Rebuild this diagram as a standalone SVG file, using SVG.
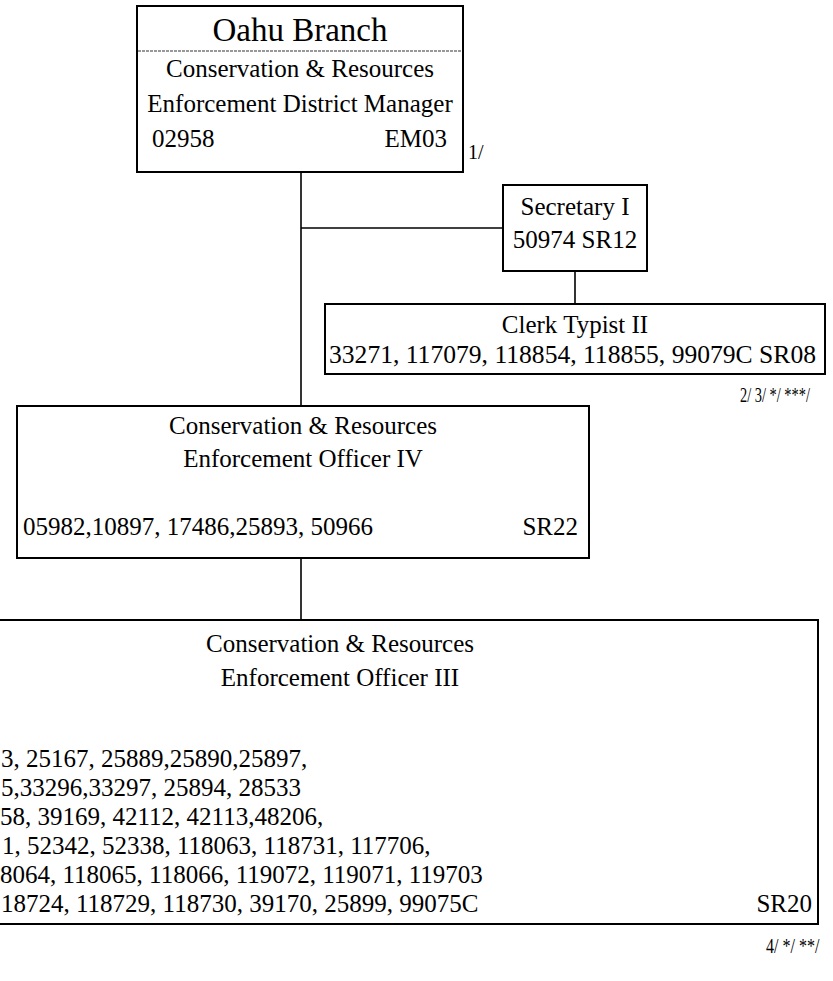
<svg xmlns="http://www.w3.org/2000/svg" width="833" height="981" viewBox="0 0 833 981">
<style>
.box{fill:#fff;stroke:#000;stroke-width:2}
.ln{stroke:#000;stroke-width:1.6;fill:none}
.t{font-family:"Liberation Serif","Times New Roman",serif;font-size:25px;fill:#000}
.c{text-anchor:middle}
.e{text-anchor:end}
.n{font-family:"Liberation Serif","Times New Roman",serif;font-size:20px;fill:#000}
</style>
<rect width="833" height="981" fill="#fff"/>
<g id="connectors">
<line class="ln" x1="301" y1="172" x2="301" y2="406"/>
<line class="ln" x1="301" y1="228" x2="503" y2="228"/>
<line class="ln" x1="575" y1="271" x2="575" y2="304"/>
<line class="ln" x1="301" y1="558" x2="301" y2="620"/>
</g>
<g id="oahu-branch">
<rect class="box" x="137" y="6" width="326" height="166"/>
<line x1="138" y1="51" x2="462" y2="51" stroke="#333" stroke-width="1" stroke-dasharray="3,1"/>
<text class="t c" x="300" y="41" style="font-size:33px">Oahu Branch</text>
<text class="t c" x="300" y="77">Conservation &amp; Resources</text>
<text class="t c" x="300" y="112">Enforcement District Manager</text>
<text class="t" x="152" y="147">02958</text>
<text class="t e" x="447" y="147">EM03</text>
<text class="t" x="468" y="159" style="font-size:20px">1/</text>
</g>
<g id="secretary">
<rect class="box" x="503" y="185" width="144" height="86"/>
<text class="t c" x="575" y="215">Secretary I</text>
<text class="t c" x="575" y="248">50974 SR12</text>
</g>
<g id="clerk-typist">
<rect class="box" x="325" y="304" width="500" height="70"/>
<text class="t c" x="575" y="333">Clerk Typist II</text>
<text class="t" x="329" y="363" textLength="487" lengthAdjust="spacingAndGlyphs">33271, 117079, 118854, 118855, 99079C SR08</text>
<text class="n" transform="translate(740,402) scale(0.72,1)">2/ 3/ */ ***/</text>
</g>
<g id="officer-iv">
<rect class="box" x="17" y="406" width="572" height="152"/>
<text class="t c" x="303" y="434">Conservation &amp; Resources</text>
<text class="t c" x="303" y="467">Enforcement Officer IV</text>
<text class="t" x="23" y="535">05982,10897, 17486,25893, 50966</text>
<text class="t e" x="578" y="535">SR22</text>
</g>
<g id="officer-iii">
<rect class="box" x="-20" y="620" width="838" height="304"/>
<text class="t c" x="340" y="652">Conservation &amp; Resources</text>
<text class="t c" x="340" y="686">Enforcement Officer III</text>
<text class="t" x="1" y="767">3, 25167, 25889,25890,25897,</text>
<text class="t" x="1" y="796">5,33296,33297, 25894, 28533</text>
<text class="t" x="0" y="825">58, 39169, 42112, 42113,48206,</text>
<text class="t" x="2" y="854">1, 52342, 52338, 118063, 118731, 117706,</text>
<text class="t" x="0" y="883">8064, 118065, 118066, 119072, 119071, 119703</text>
<text class="t" x="1" y="912">18724, 118729, 118730, 39170, 25899, 99075C</text>
<text class="t e" x="812" y="912">SR20</text>
</g>
<text class="n" transform="translate(766,953) scale(0.8,1)">4/ */ **/</text>
</svg>
